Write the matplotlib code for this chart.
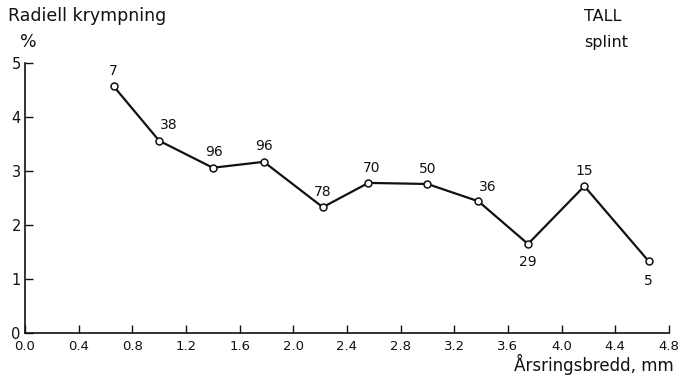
import matplotlib
matplotlib.use("Agg")
import matplotlib.pyplot as plt

# ── Data ──────────────────────────────────────────────────────────────
ring_width = [0.66, 1.00, 1.40, 1.78, 2.22, 2.56, 3.00, 3.38, 3.75, 4.17, 4.65]
shrinkage = [4.57, 3.56, 3.06, 3.17, 2.33, 2.78, 2.76, 2.44, 1.65, 2.72, 1.33]
n_samples = [7, 38, 96, 96, 78, 70, 50, 36, 29, 15, 5]

x_ticks = [0.0, 0.4, 0.8, 1.2, 1.6, 2.0, 2.4, 2.8, 3.2, 3.6, 4.0, 4.4, 4.8]
y_ticks = [0, 1, 2, 3, 4, 5]

# label offsets (points) for the sample counts
offsets = [(0, 6), (7, 6), (1, 6), (0, 6), (0, 6), (2, 6),
           (0, 6), (7, 5), (0, -8), (0, 6), (0, -9)]

INK = "#111111"
FONT = "DejaVu Sans"

fig = plt.figure(figsize=(6.82, 3.79), dpi=100)
ax = fig.add_axes([0.0367, 0.121, 0.944, 0.713])

ax.plot(ring_width, shrinkage, "-", color=INK, linewidth=1.6, zorder=2)
ax.plot(ring_width, shrinkage, "o", markersize=5, markerfacecolor="white",
        markeredgecolor=INK, markeredgewidth=1.1, zorder=3)

for x, y, n, (dx, dy) in zip(ring_width, shrinkage, n_samples, offsets):
    va = "bottom" if dy > 0 else "top"
    ax.annotate(str(n), (x, y), xytext=(dx, dy), textcoords="offset points",
                ha="center", va=va, fontsize=10, color=INK, family=FONT)

ax.set_xlim(0, 4.8)
ax.set_ylim(0, 5)
ax.set_xticks(x_ticks)
ax.set_xticklabels([f"{t:.1f}" for t in x_ticks], fontsize=9.5, family=FONT)
ax.set_yticks(y_ticks)
ax.set_yticklabels([str(t) for t in y_ticks], fontsize=10.5, family=FONT)
ax.tick_params(axis="both", direction="in", length=6, width=1.0, colors=INK,
               pad=3)
ax.tick_params(axis="x", pad=5)
ax.spines["top"].set_visible(False)
ax.spines["right"].set_visible(False)
for s in ["left", "bottom"]:
    ax.spines[s].set_linewidth(1.2)
    ax.spines[s].set_color(INK)

fig.text(0.012, 0.945, "Radiell krympning", fontsize=12.5, color=INK,
         family=FONT, ha="left", va="baseline")
fig.text(0.030, 0.875, "%", fontsize=12.5, color=INK, family=FONT,
         ha="left", va="baseline")
fig.text(0.857, 0.945, "TALL", fontsize=11.5, color=INK, family=FONT,
         ha="left", va="baseline")
fig.text(0.857, 0.875, "splint", fontsize=11.5, color=INK, family=FONT,
         ha="left", va="baseline")
fig.text(0.988, 0.022, "Årsringsbredd, mm", fontsize=12, color=INK,
         family=FONT, ha="right", va="baseline")

fig.savefig("out.png", dpi=100, facecolor="white")
